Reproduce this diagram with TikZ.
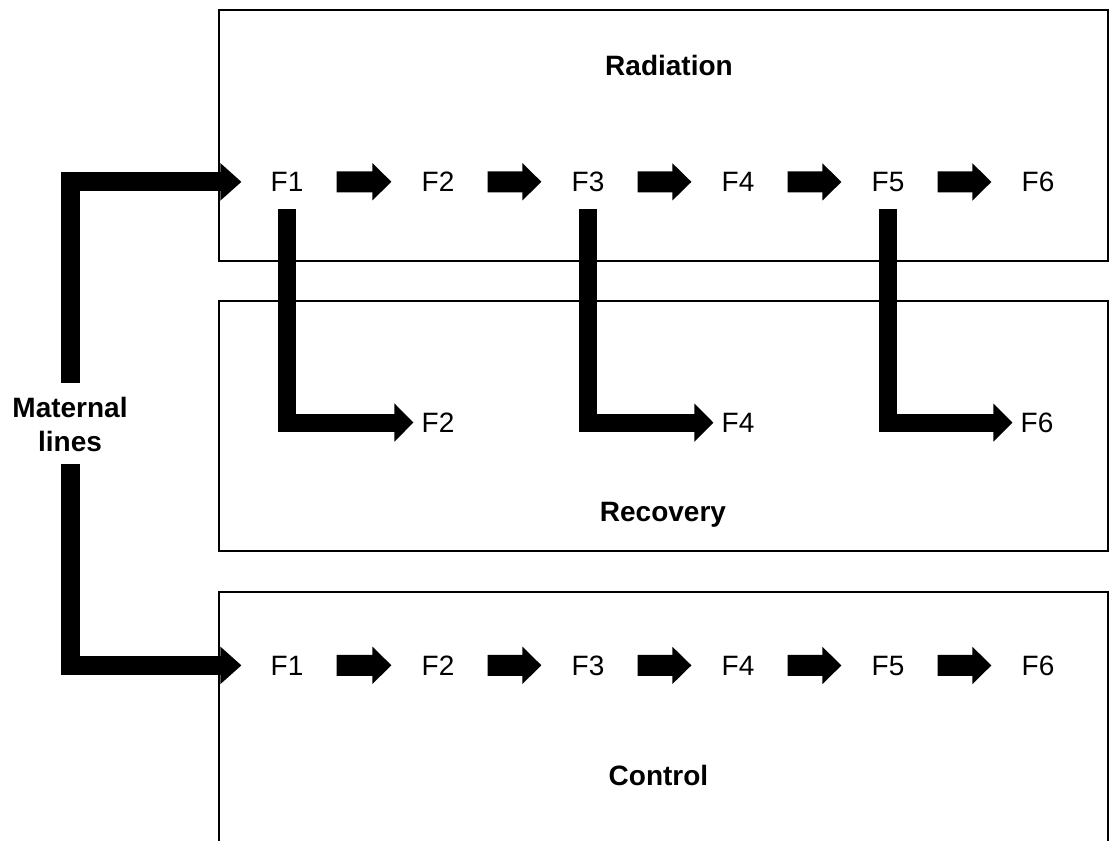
\documentclass[tikz,border=0pt]{standalone}
\usepackage{fontspec}
\setmainfont{Liberation Sans}
\usetikzlibrary{arrows.meta}
\begin{document}
\begin{tikzpicture}[x=1pt,y=-1pt,
  panel/.style={draw=black,line width=1.3pt},
  title/.style={font=\fontsize{28}{34}\selectfont\bfseries,anchor=base,inner sep=0pt},
  gen/.style={font=\fontsize{28}{34}\selectfont,anchor=base,inner sep=0pt},
  stepar/.style={line width=21pt,-{Triangle[width=36pt,length=19pt]},shorten <=33pt,shorten >=30pt},
  lineage/.style={line width=19pt,-{Triangle[width=36pt,length=21pt]},line join=miter,shorten >=29pt},
  branch/.style={line width=18pt,-{Triangle[width=37pt,length=19pt]},line join=miter,shorten <=17pt,shorten >=8pt},
]
\useasboundingbox (0,0) rectangle (1109,841);

% treatment panels
\draw[panel] (219,10) rectangle (1108,261);
\draw[panel] (219,301) rectangle (1108,551);
\draw[panel] (219,841) -- (219,592) -- (1108,592) -- (1108,841);

\node[title] (radt) at (669,75) {Radiation};
\node[title] (rect) at (663,521.5) {Recovery};
\node[title] (cont) at (658.5,785) {Control};

% generations
\foreach \i/\x in {1/287,2/438,3/588,4/738,5/888,6/1038}{
  \node[gen] (r\i) at (\x,191.5) {F\i};
  \node[gen] (c\i) at (\x,675) {F\i};
}
\node[gen] (v2) at (438,432.3) {F2};
\node[gen] (v4) at (738,432.3) {F4};
\node[gen] (v6) at (1037,432.3) {F6};

% generation-to-generation arrows
\foreach \a/\b in {1/2,2/3,3/4,4/5,5/6}{
  \draw[stepar] (r\a) -- (r\b);
  \draw[stepar] (c\a) -- (c\b);
}

% transfer into recovery
\draw[branch] (r1) |- (v2);
\draw[branch] (r3) |- (v4);
\draw[branch] (r5) |- (v6);

% maternal lines
\node[font=\fontsize{28}{34}\selectfont\bfseries,align=center,inner sep=0pt] (mat) at (70,424) {Maternal\\lines};
\coordinate (mtop) at (70,383);
\coordinate (mbot) at (70,464);
\draw[lineage] (mtop) |- (r1);
\draw[lineage] (mbot) |- (c1);
\end{tikzpicture}
\end{document}
